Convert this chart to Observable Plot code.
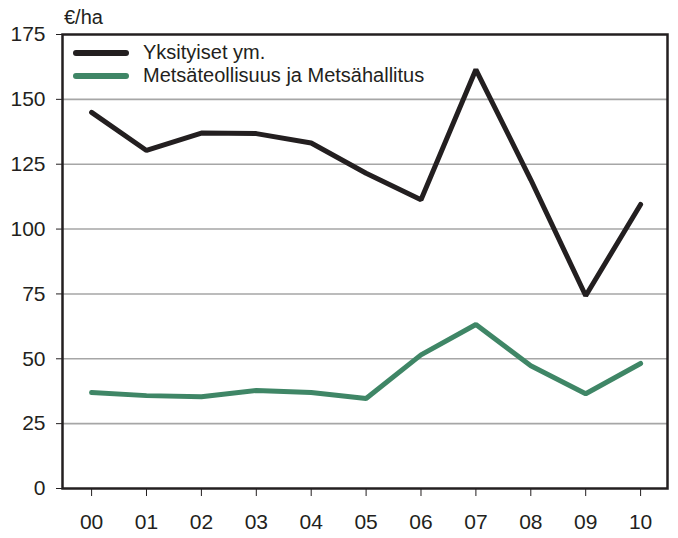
<!DOCTYPE html>
<html><head><meta charset="utf-8">
<script src="https://cdn.jsdelivr.net/npm/d3@7"></script>
<script src="https://cdn.jsdelivr.net/npm/@observablehq/plot@0.6"></script>
<style>
body{margin:0;background:#fff;}
#wrap{position:relative;width:678px;height:538px;font-family:"Liberation Sans",Arial,sans-serif;}
.leg{position:absolute;left:73px;font-size:20px;color:#231f20;display:flex;align-items:center;}
.leg span.sw{display:inline-block;width:56px;height:6px;border-radius:3px;margin-right:14px;}
</style></head>
<body><div id="wrap"></div>
<script>
const years = ["00","01","02","03","04","05","06","07","08","09","10"];
const yksityiset = [145, 130.3, 137, 136.8, 133.2, 121.5, 111.3, 161.5, 119, 74.3, 109.5];
const metsateollisuus = [37, 35.8, 35.4, 37.8, 37, 34.7, 51.5, 63.2, 47.3, 36.5, 48.2];
const yTicks = [0, 25, 50, 75, 100, 125, 150, 175];
const seriesNames = ["Yksityiset ym.", "Metsäteollisuus ja Metsähallitus"];
const colors = ["#231f20", "#3f8666"];

const data = [];
years.forEach((y, i) => {
  data.push({i, s: seriesNames[0], v: yksityiset[i]});
  data.push({i, s: seriesNames[1], v: metsateollisuus[i]});
});

const FONT = '"Liberation Sans",Arial,sans-serif';
const plot = Plot.plot({
  width: 678, height: 538,
  marginLeft: 62, marginRight: 11, marginTop: 34, marginBottom: 50,
  style: {fontFamily: FONT, fontSize: "21px", color: "#231f20", background: "#fff"},
  x: {type: "linear", domain: [-0.53, 10.49], label: null},
  y: {domain: [0, 175], label: null},
  color: {domain: seriesNames, range: colors},
  marks: [
    Plot.gridY(yTicks.filter(t => t > 0 && t < 175), {stroke: "#a6a6a6", strokeOpacity: 1, strokeWidth: 1.6}),
    Plot.axisY({ticks: yTicks, tickSize: 6, tickPadding: 11, fontSize: 21, stroke: "#231f20"}),
    Plot.axisX({ticks: d3.range(years.length), tickFormat: i => years[i], tickSize: 8, tickPadding: 18, fontSize: 21}),
    Plot.line(data, {x: "i", y: "v", z: "s", stroke: "s", strokeWidth: 5, strokeLinejoin: "miter", strokeLinecap: "round"}),
    Plot.frame({stroke: "#231f20", strokeWidth: 2.5})
  ]
});
const wrap = document.getElementById("wrap");
wrap.appendChild(plot);

const unit = document.createElement("div");
unit.textContent = "€/ha";
unit.style.cssText = "position:absolute;left:64px;top:6px;font-size:20px;color:#231f20;";
wrap.appendChild(unit);
seriesNames.forEach((n, k) => {
  const d = document.createElement("div");
  d.className = "leg";
  d.style.top = (41 + k * 23) + "px";
  d.innerHTML = `<span class="sw" style="background:${colors[k]}"></span>${n}`;
  wrap.appendChild(d);
});
</script></body></html>
